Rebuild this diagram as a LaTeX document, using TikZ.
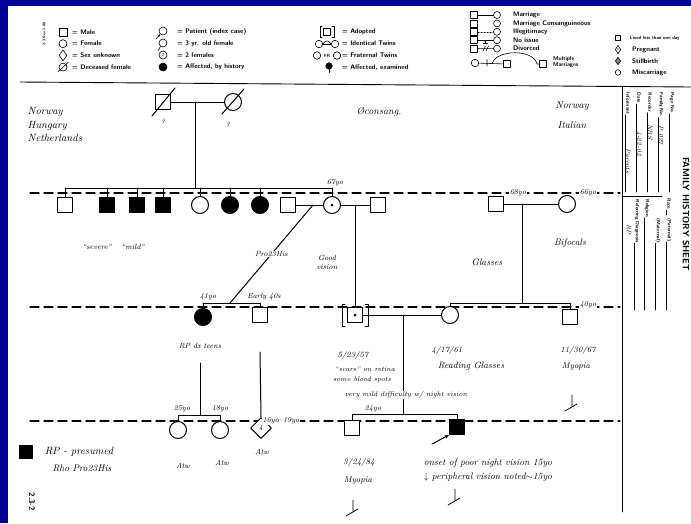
\documentclass[tikz,border=0pt]{standalone}
\usepackage{tikz}
\usetikzlibrary{arrows.meta,shapes.geometric,positioning}
\definecolor{slideblue}{RGB}{0,0,150}
\tikzset{
  male/.style={draw,fill=white,line width=1pt,minimum size=15pt,inner sep=0pt},
  female/.style={draw,fill=white,circle,line width=1pt,minimum size=17pt,inner sep=0pt},
  sexunk/.style={draw,fill=white,diamond,line width=1pt,minimum size=21pt,inner sep=0pt,font=\fontsize{7}{7}\selectfont\itshape},
  aff/.style={fill=black},
  hand/.style={font=\fontsize{7.5}{9}\selectfont\itshape,inner sep=.5pt,align=center},
  bighand/.style={hand,font=\fontsize{9.5}{11}\selectfont\itshape},
  leg/.style={font=\fontsize{6.6}{7}\selectfont\sffamily\bfseries,inner sep=0pt,anchor=west},
  lsym/.style={draw,line width=.6pt,inner sep=0pt},
  genline/.style={line width=1.2pt,dash pattern=on 9pt off 5pt},
  pline/.style={line width=1pt},
  formlab/.style={font=\fontsize{4.8}{5}\selectfont\sffamily\bfseries,rotate=-90,inner sep=.5pt,anchor=west},
  formhand/.style={font=\fontsize{6.5}{7}\selectfont\itshape,rotate=-90,inner sep=0pt,anchor=west},
  seen/.pic={\draw[line width=.8pt] (0,-8) -- (0,3) (-7,8) -- (5,1);},
}

\begin{document}
\begin{tikzpicture}[x=1pt,y=-1pt,line cap=round,line join=round]
  \useasboundingbox (0,0) rectangle (691,523);
  \fill[slideblue] (0,0) rectangle (691,523);
  \fill[white] (8,6) rectangle (691,523);
  \clip (8,6) rectangle (691,523);

  % legend
  \node[font=\fontsize{3.8}{4}\selectfont\sffamily\bfseries,rotate=90,inner sep=0pt] (rev) at (44,34) {2-3 Rev 1-88};
  \node[lsym,minimum size=8pt] (lmale) at (63,32) {};
  \node[lsym,circle,minimum size=8pt] (lfem) at (63,43.7) {};
  \node[lsym,diamond,minimum width=8pt,minimum height=11pt] (lunk) at (63,55.4) {};
  \node[lsym,circle,minimum size=8pt] (ldec) at (63,67.1) {};
  \draw[line width=.6pt] (58,72) -- (68.5,62);
  \foreach \t [count=\i] in {Male,Female,Sex unknown,Deceased female}
    \node[leg] (la\i) at (72,20.3+11.7*\i) {= \t};

  \node[lsym,circle,minimum size=8pt] (lpat) at (163,31) {};
  \draw[line width=.6pt,-{Stealth[length=2.5pt]}] (156,39) -- (lpat);
  \node[lsym,circle,minimum size=8pt] (lyr) at (163,43) {};
  \draw[line width=.6pt] (160.5,46.5) -- (158,50.5);
  \node[lsym,circle,minimum size=8pt,font=\fontsize{4.5}{4}\selectfont\sffamily] (ltwo) at (163,55) {2};
  \node[lsym,circle,fill=black,minimum size=8pt] (lhist) at (163,67) {};
  \foreach \t [count=\i] in {Patient (index case),3 yr. old female,2 females,{Affected, by history}}
    \node[leg] (lb\i) at (177,20.3+11.7*\i) {= \t};

  \node[lsym,minimum size=7.5pt] (ladop) at (327,32) {};
  \draw[line width=.6pt] (322,26.5) -- (320,26.5) -- (320,37.5) -- (322,37.5)
                         (332,26.5) -- (334,26.5) -- (334,37.5) -- (332,37.5);
  \node[lsym,circle,minimum size=7.5pt] (ltw1) at (319,44) {};
  \node[lsym,circle,minimum size=7.5pt] (ltw2) at (335,44) {};
  \draw[line width=.6pt] (ltw1) -- (ltw2);
  \draw[line width=.6pt] (323,44) .. controls (325,40) and (329,40) .. (331,44);
  \node[lsym,circle,minimum size=7.5pt] (lfr1) at (317,55.5) {};
  \node[lsym,circle,minimum size=7.5pt] (lfr2) at (337,55.5) {};
  \node[font=\fontsize{4.5}{4}\selectfont\sffamily\bfseries,inner sep=0pt] (lfr) at (327,55.5) {FR};
  \node[lsym,circle,fill=black,minimum size=6.5pt] (lexam) at (329,66) {};
  \draw[line width=.6pt] (lexam.south) -- ++(0,3);
  \foreach \t [count=\i] in {Adopted,Identical Twins,Fraternal Twins,{Affected, examined}}
    \node[leg] (lc\i) at (342,20.3+11.7*\i) {= \t};

  \foreach \i in {1,...,5} {
    \node[lsym,minimum size=7pt] (lsq\i) at (474,6.6+8.4*\i) {};
    \node[lsym,circle,minimum size=7pt] (lci\i) at (497,6.6+8.4*\i) {};
  }
  \draw[line width=.6pt] (lsq1) -- (lci1);
  \draw[line width=.4pt,double,double distance=1pt] (lsq2) -- (lci2);
  \draw[line width=.6pt,dash pattern=on 1.5pt off 1.5pt] (lsq3) -- (lci3);
  \draw[line width=.6pt] (lsq4) -- (lci4) (485.5,40.2) -- (485.5,43) (483.5,43) -- (487.5,43);
  \draw[line width=.6pt] (lsq5) -- (lci5) (483,51) -- (485.5,46) (486,51) -- (488.5,46);
  \foreach \t [count=\i] in {Marriage,Marriage Consanguineous,Illegitimacy,No issue,Divorced}
    \node[leg] (ld\i) at (513,6.6+8.4*\i) {\t};
  \node[lsym,circle,minimum size=7.5pt] (lmm1) at (475,63) {};
  \node[lsym,minimum size=7.5pt] (lmm2) at (507,64) {};
  \node[lsym,minimum size=7.5pt] (lmm3) at (543,64) {};
  \draw[line width=.6pt] (lmm1) -- (lmm2) (487,59.5) -- (487,66);
  \draw[line width=.6pt] (492,64) .. controls (496,49) and (534,49) .. (537,64) -- (lmm3);
  \node[leg,align=left,font=\fontsize{5.6}{6}\selectfont\sffamily\bfseries] (ld6) at (553,62) {Multiple\\Marriages};

  \node[lsym,minimum size=5.5pt] (le1) at (618,38) {};
  \node[lsym,diamond,minimum width=5.5pt,minimum height=8.5pt,font=\fontsize{3}{3}\selectfont\sffamily] (le2) at (618,49.5) {P};
  \node[lsym,diamond,minimum width=5.5pt,minimum height=7.5pt,fill=gray] (le3) at (618,61) {};
  \node[lsym,circle,minimum size=5.5pt] (le4) at (618,72.5) {};
  \node[leg,font=\fontsize{4.6}{5}\selectfont\sffamily\bfseries] (lf1) at (630,38) {Lived less than one day};
  \foreach \t [count=\i from 2] in {Pregnant,Stillbirth,Miscarriage}
    \node[leg] (lf\i) at (632,26.5+11.5*\i) {\t};

  % form
  \draw[line width=.9pt] (20,82) -- (691,87);
  \draw[line width=.9pt] (622,86.5) -- (622,512);
  \draw[line width=.6pt] (622,196) -- (662,196);
  \foreach \t/\x [count=\i] in {Informant/628,Date/639,Recorder/650,Family No./661,Page No./672} {
    \node[formlab] (fu\i) at (\x,92) {\t};
    \draw[line width=.6pt] (fu\i.south east) -- (fu\i.south east |- 0,192);
  }
  \node[formhand] (fv1) at (628,148) {Parents};
  \node[formhand] (fv2) at (639,131) {4-22-02};
  \node[formhand] (fv3) at (650,124) {NBS};
  \node[formhand] (fv4) at (661,125) {P 027};
  \node[formlab] (fl1) at (669,198) {Race};
  \node[formlab] (fl2) at (669,218) {(Paternal)};
  \node[formlab] (fl3) at (658,218) {(Maternal)};
  \node[formlab] (fl4) at (647,199) {Religion};
  \node[formlab] (fl5) at (637,199) {Referring Diagnosis};
  \node[formhand] (fv5) at (629,224) {RP};
  \draw[line width=.6pt] (fl1.south east) -- (fl1.south east |- 0,215);
  \foreach \n in {fl2,fl3,fl4,fl5}
    \draw[line width=.6pt] (\n.south east) -- (\n.south east |- 0,310);
  \node[font=\fontsize{9}{10}\selectfont\sffamily\bfseries,rotate=-90,inner sep=0pt] (fhs) at (686,214) {FAMILY HISTORY SHEET};

  % generation lines
  \foreach \y in {193,307,421}
    \draw[genline] (30,\y) -- (620,\y);

  % generation I
  \node[male] (gfa) at (163,102) {};
  \node[female] (gmo) at (233,102) {};
  \draw[pline] (gfa) -- (gmo);
  \draw[pline] (152,116) -- (175,88) (222,114) -- (244,89);
  \node[hand] (q1) at (163,122) {?};
  \node[hand] (q2) at (228,125) {?};
  \coordinate (mI) at (195,102);
  \coordinate (sibII) at (195,188);
  \draw[pline] (mI) -- (sibII);

  % generation II
  \node[male] (ii1) at (65,205) {};
  \node[male,aff] (ii2) at (107,205) {};
  \node[male,aff] (ii3) at (137,205) {};
  \node[male,aff] (ii4) at (163,205) {};
  \node[female] (ii5) at (200,205) {};
  \node[female,aff] (ii6) at (230,205) {};
  \node[female,aff] (ii7) at (260,205) {};
  \node[male] (sp1) at (288,205) {};
  \node[female] (ii8) at (332,205) {};
  \fill (ii8) circle (1.5);
  \node[male] (sp2) at (378,205) {};
  \draw[pline] (ii1.north |- sibII) -- (ii8.north |- sibII);
  \foreach \n in {ii1,ii2,ii3,ii4,ii5,ii6,ii7,ii8}
    \draw[pline] (\n.north) -- (\n.north |- sibII);
  \draw[pline] (sp1) -- (ii8);
  \draw[pline] (ii8) -- (sp2);
  \coordinate (m1) at (313,205);
  \coordinate (m2) at (355,205);

  \node[male] (pfa) at (496,204) {};
  \node[female] (pmo) at (567,204) {};
  \draw[pline] (pfa) -- (pmo);
  \coordinate (m3) at (522,204);

  % generation III
  \node[female,aff] (iii1) at (203,317) {};
  \node[male] (iii2) at (260,315) {};
  \coordinate (sibIII) at (230,303);
  \draw[pline] (iii1.north |- sibIII) -- (iii2.north |- sibIII);
  \draw[pline] (iii1.north) -- (iii1.north |- sibIII) (iii2.north) -- (iii2.north |- sibIII);
  \draw[pline] (m1) -- node[hand,fill=white] (pro) {Pro23His} (sibIII);

  \node[male] (iii3) at (355,315) {};
  \fill (iii3) circle (1.5);
  \draw[pline] (345,304) -- (342,304) -- (342,326) -- (345,326)
               (365,304) -- (368,304) -- (368,326) -- (365,326);
  \draw[pline] (m2) -- (iii3);
  \node[female] (iii4) at (450,315) {};
  \node[male] (iii5) at (570,317) {};
  \draw[pline] (iii3) -- (iii4);
  \coordinate (sibIIIb) at (522,303);
  \draw[pline] (m3) -- (sibIIIb);
  \draw[pline] (iii4.north) -- (iii4.north |- sibIIIb) -- (iii5.north |- sibIIIb) -- (iii5.north);
  \coordinate (m4) at (403,315);

  % generation IV
  \node[female] (iv1) at (178,430) {};
  \node[female] (iv2) at (220,430) {};
  \node[sexunk] (iv3) at (261,428) {4};
  \coordinate (sibIV) at (200,415);
  \coordinate (dIV) at (200,363);
  \coordinate (dIVb) at (260,352);
  \draw[pline] (dIV) -- (sibIV);
  \draw[pline] (iv1.north) -- (iv1.north |- sibIV) -- (iv2.north |- sibIV) -- (iv2.north);
  \draw[pline] (dIVb) -- (iv3.north);

  \node[male] (iv4) at (352,428) {};
  \node[male,aff] (iv5) at (457,427) {};
  \coordinate (sibIVb) at (403,414);
  \draw[pline] (m4) -- (sibIVb);
  \draw[pline] (iv4.north) -- (iv4.north |- sibIVb) -- (iv5.north |- sibIVb) -- (iv5.north);
  \coordinate (arrtail) at (432,444);
  \draw[pline,-{Stealth[length=4.5pt]}] (arrtail) -- (iv5.south west);

  % notes
  \node[hand,align=left,anchor=north west,font=\fontsize{10.5}{13.5}\selectfont\itshape] (orig1) at (27,107) {Norway\\Hungary\\Netherlands};
  \node[hand,font=\fontsize{10}{10}\selectfont\itshape] (consang) at (379,112) {\O consang.};
  \node[bighand,font=\fontsize{10}{20}\selectfont\itshape] (orig2) at (572,115) {Norway\\Italian};
  \node[hand,fill=white] (age1) at (335,183) {67yo};
  \node[hand,fill=white] (age2) at (518,193) {68yo};
  \node[hand,fill=white] (age3) at (588,193) {66yo};
  \node[hand] (sev) at (97,247) {``severe''};
  \node[hand] (mild) at (133,247) {``mild''};
  \node[hand] (good) at (327,262) {Good\\vision};
  \node[bighand] (glas) at (487,262) {Glasses};
  \node[bighand] (bif) at (570,243) {Bifocals};
  \node[hand] (age4) at (208,297) {41yo};
  \node[hand] (age5) at (264,297) {Early 40s};
  \node[hand,fill=white] (age6) at (588,305) {40yo};
  \node[hand] (rpdx) at (200,346) {RP dx teens};
  \node[hand,font=\fontsize{8}{9}\selectfont\itshape] (d1) at (353,355) {5/23/57};
  \node[hand,font=\fontsize{6.8}{8}\selectfont\itshape] (n1) at (365,369) {``scars'' on retina};
  \node[hand,font=\fontsize{6.8}{8}\selectfont\itshape] (n2) at (362,380) {some blood spots};
  \node[hand,font=\fontsize{6.8}{8}\selectfont\itshape,fill=white] (n3) at (406,395) {very mild difficulty w/ night vision};
  \node[hand,font=\fontsize{8}{9}\selectfont\itshape] (d2) at (447,350) {4/17/61};
  \node[bighand,font=\fontsize{9.2}{10}\selectfont\itshape] (n4) at (471,366) {Reading Glasses};
  \node[hand,font=\fontsize{8}{9}\selectfont\itshape] (d3) at (578,350) {11/30/67};
  \node[hand,font=\fontsize{8.5}{9}\selectfont\itshape] (n5) at (576,366) {Myopia};
  \pic at (572,403) {seen};
  \node[hand,fill=white] (age7) at (182,409) {25yo};
  \node[hand,fill=white] (age8) at (220,409) {18yo};
  \node[hand,fill=white] (age9) at (281,421) {16yo--19yo};
  \node[hand,fill=white] (age10) at (373,409) {24yo};
  \node[hand] (atw1) at (183,466) {Atw};
  \node[hand] (atw2) at (222,463) {Atw};
  \node[hand] (atw3) at (262,452) {Atw};
  \node[hand,font=\fontsize{8.5}{9}\selectfont\itshape] (d4) at (359,462) {3/24/84};
  \node[hand,font=\fontsize{8.5}{9}\selectfont\itshape] (n6) at (358,480) {Myopia};
  \pic at (353,508) {seen};
  \node[hand,font=\fontsize{9.5}{14}\selectfont\itshape] (n7) at (488,470) {onset of poor night vision 15yo\\$\downarrow$ peripheral vision noted$\sim$15yo};
  \pic at (455,497) {seen};

  % key
  \node[draw,fill=black,minimum size=13pt,inner sep=0pt] (rpkey) at (26,452) {};
  \node[hand,font=\fontsize{10.5}{11}\selectfont\itshape] (rpk) at (79,452) {RP - presumed};
  \node[hand,font=\fontsize{9.6}{10}\selectfont\itshape] (rho) at (82,468) {Rho Pro23His};
  \node[font=\fontsize{8}{9}\selectfont\sffamily\bfseries,rotate=-90,inner sep=0pt] (slide) at (32,502) {2.3-2};
\end{tikzpicture}
\end{document}
